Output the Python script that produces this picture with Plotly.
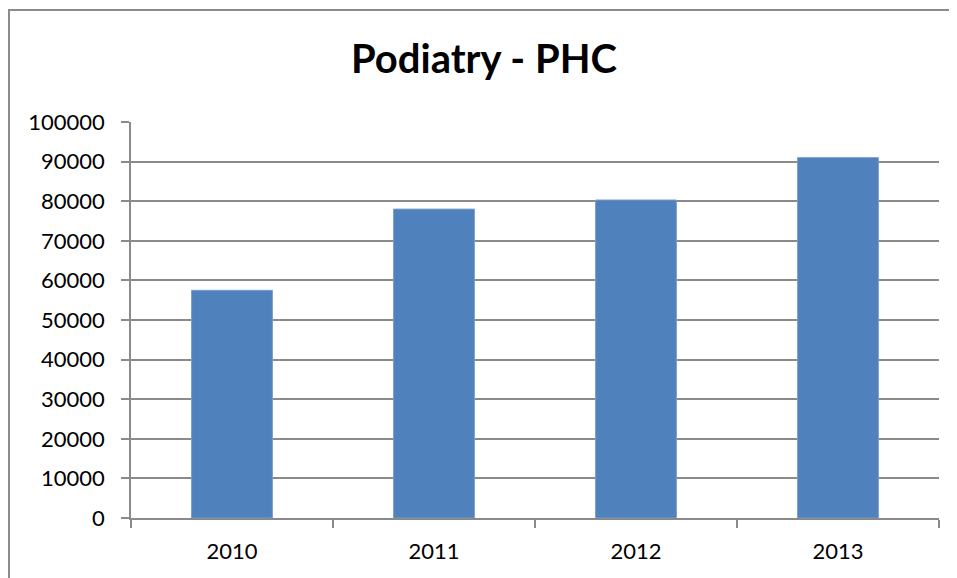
import plotly.graph_objects as go

years = ["2010", "2011", "2012", "2013"]
values = [57500, 78000, 80300, 91000]
y_ticks = [0, 10000, 20000, 30000, 40000, 50000, 60000, 70000, 80000, 90000, 100000]

# page body has an 8px default margin; figure coordinates below account for it
L, R, T, B = 123, 26, 114, 68
PW = 957 - L - R
PH = 578 - T - B

fig = go.Figure(go.Bar(
    x=years, y=values,
    marker=dict(color="#4F81BD", line=dict(color="#7A9CC8", width=1)),
    width=0.4,
))

grid = "#8A8A8A"
fig.update_layout(
    width=957, height=578,
    margin=dict(l=L, r=R, t=T, b=B, autoexpand=False),
    paper_bgcolor="white", plot_bgcolor="white",
    font=dict(family="Lato", size=22, color="black"),
    title=dict(text="<b>Podiatry - PHC</b>", x=476/957, xanchor="center",
               y=1-51/578, yanchor="middle",
               font=dict(family="Lato", size=40, color="black")),
    showlegend=False,
    bargap=0.6,
    xaxis=dict(type="category", showline=True, linecolor=grid, linewidth=1.5,
               ticks="outside", ticklen=8, tickcolor=grid, tickwidth=1.5,
               tickson="boundaries", showgrid=False, ticklabelstandoff=13,
               tickfont=dict(size=22)),
    yaxis=dict(range=[0, 100000], tickvals=y_ticks,
               ticktext=[str(v) for v in y_ticks],
               showline=True, linecolor=grid, linewidth=1.5,
               ticks="outside", ticklen=8, tickcolor=grid, tickwidth=1.5,
               showgrid=True, gridcolor=grid, gridwidth=1.5,
               zeroline=False, ticklabelstandoff=12, tickfont=dict(size=22)),
    shapes=[dict(type="rect", xref="paper", yref="paper",
                 x0=(1 - L) / PW, x1=1.3, y0=-0.4, y1=1 + (T - 2) / PH,
                 line=dict(color="#8C8C8C", width=2), fillcolor="rgba(0,0,0,0)",
                 layer="below")],
)

fig.write_html("out.html")
